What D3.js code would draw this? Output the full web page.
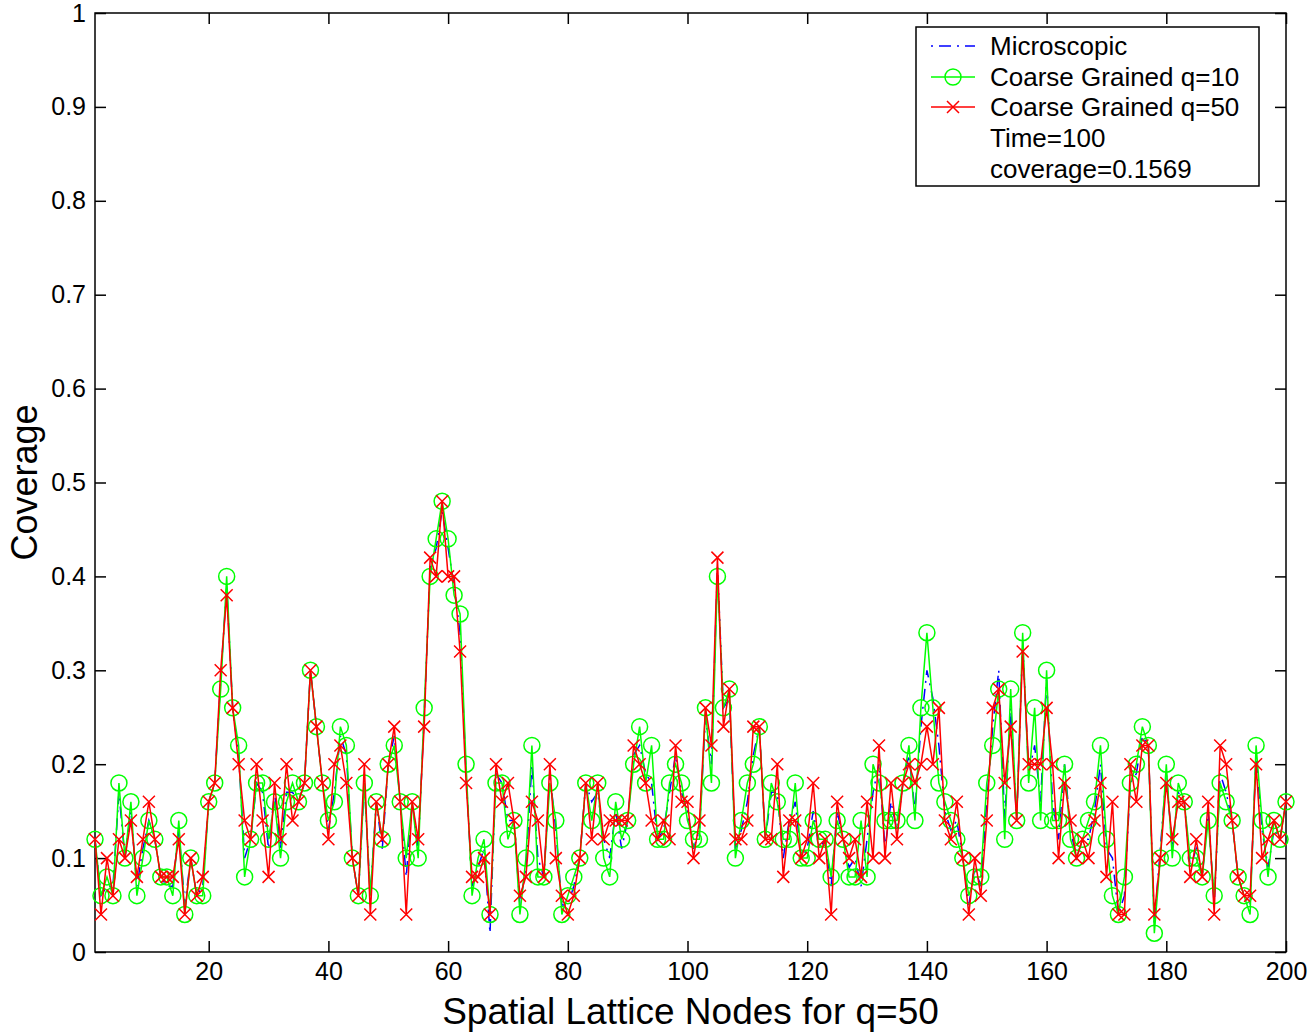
<!DOCTYPE html>
<html>
<head>
<meta charset="utf-8">
<script src="https://cdn.jsdelivr.net/npm/d3@7"></script>
<style>
  body { margin: 0; background: #fff; }
  svg { display: block; font-family: "Liberation Sans", Arial, sans-serif; }
</style>
</head>
<body>
<svg id="chart" width="1313" height="1032"></svg>
<script>
// coverage per lattice node
const microscopic = [
  0.12, 0.06, 0.07, 0.07, 0.17, 0.10, 0.15, 0.07, 0.11, 0.14,
  0.12, 0.08, 0.07, 0.07, 0.13, 0.05, 0.10, 0.06, 0.07, 0.16,
  0.18, 0.29, 0.39, 0.26, 0.21, 0.10, 0.12, 0.18, 0.17, 0.11,
  0.17, 0.11, 0.17, 0.17, 0.16, 0.18, 0.30, 0.24, 0.18, 0.13,
  0.17, 0.23, 0.21, 0.10, 0.06, 0.18, 0.06, 0.16, 0.11, 0.20,
  0.23, 0.16, 0.08, 0.16, 0.11, 0.25, 0.41, 0.43, 0.47, 0.43,
  0.39, 0.34, 0.19, 0.07, 0.09, 0.11, 0.02, 0.19, 0.18, 0.14,
  0.14, 0.05, 0.09, 0.20, 0.10, 0.08, 0.19, 0.13, 0.05, 0.05,
  0.07, 0.10, 0.18, 0.16, 0.17, 0.12, 0.10, 0.15, 0.11, 0.14,
  0.21, 0.22, 0.19, 0.18, 0.12, 0.13, 0.17, 0.21, 0.17, 0.15,
  0.11, 0.13, 0.25, 0.20, 0.41, 0.26, 0.27, 0.11, 0.13, 0.16,
  0.21, 0.24, 0.12, 0.17, 0.17, 0.10, 0.14, 0.16, 0.10, 0.11,
  0.15, 0.11, 0.12, 0.07, 0.15, 0.12, 0.09, 0.10, 0.07, 0.12,
  0.17, 0.20, 0.11, 0.16, 0.13, 0.18, 0.21, 0.15, 0.24, 0.30,
  0.27, 0.22, 0.15, 0.13, 0.14, 0.10, 0.05, 0.09, 0.07, 0.16,
  0.24, 0.30, 0.14, 0.26, 0.14, 0.33, 0.19, 0.22, 0.16, 0.29,
  0.16, 0.12, 0.20, 0.13, 0.10, 0.12, 0.12, 0.15, 0.20, 0.11,
  0.10, 0.04, 0.06, 0.18, 0.19, 0.23, 0.22, 0.03, 0.11, 0.19,
  0.11, 0.17, 0.16, 0.09, 0.11, 0.08, 0.15, 0.05, 0.19, 0.17,
  0.14, 0.08, 0.06, 0.05, 0.21, 0.13, 0.09, 0.13, 0.12, 0.16
]

const coarseQ10 = [
  0.12, 0.06, 0.08, 0.06, 0.18, 0.10, 0.16, 0.06, 0.10, 0.14,
  0.12, 0.08, 0.08, 0.06, 0.14, 0.04, 0.10, 0.06, 0.06, 0.16,
  0.18, 0.28, 0.40, 0.26, 0.22, 0.08, 0.12, 0.18, 0.18, 0.12,
  0.16, 0.10, 0.16, 0.18, 0.16, 0.18, 0.30, 0.24, 0.18, 0.14,
  0.16, 0.24, 0.22, 0.10, 0.06, 0.18, 0.06, 0.16, 0.12, 0.20,
  0.22, 0.16, 0.10, 0.16, 0.10, 0.26, 0.40, 0.44, 0.48, 0.44,
  0.38, 0.36, 0.20, 0.06, 0.10, 0.12, 0.04, 0.18, 0.18, 0.12,
  0.14, 0.04, 0.10, 0.22, 0.08, 0.08, 0.18, 0.14, 0.04, 0.06,
  0.08, 0.10, 0.18, 0.14, 0.18, 0.10, 0.08, 0.16, 0.12, 0.14,
  0.20, 0.24, 0.18, 0.22, 0.12, 0.12, 0.18, 0.20, 0.18, 0.14,
  0.12, 0.12, 0.26, 0.18, 0.40, 0.26, 0.28, 0.10, 0.14, 0.18,
  0.20, 0.24, 0.12, 0.18, 0.16, 0.12, 0.12, 0.18, 0.10, 0.10,
  0.14, 0.12, 0.12, 0.08, 0.14, 0.12, 0.08, 0.08, 0.14, 0.08,
  0.20, 0.18, 0.14, 0.14, 0.14, 0.18, 0.22, 0.14, 0.26, 0.34,
  0.26, 0.18, 0.16, 0.14, 0.12, 0.10, 0.06, 0.08, 0.08, 0.18,
  0.22, 0.28, 0.12, 0.28, 0.14, 0.34, 0.18, 0.26, 0.14, 0.30,
  0.14, 0.14, 0.20, 0.12, 0.10, 0.12, 0.14, 0.16, 0.22, 0.12,
  0.06, 0.04, 0.08, 0.18, 0.20, 0.24, 0.22, 0.02, 0.10, 0.20,
  0.10, 0.18, 0.16, 0.10, 0.10, 0.08, 0.14, 0.06, 0.18, 0.16,
  0.14, 0.08, 0.06, 0.04, 0.22, 0.14, 0.08, 0.14, 0.12, 0.16
]

const coarseQ50 = [
  0.12, 0.04, 0.10, 0.06, 0.12, 0.10, 0.14, 0.08, 0.12, 0.16,
  0.12, 0.08, 0.08, 0.08, 0.12, 0.04, 0.10, 0.06, 0.08, 0.16,
  0.18, 0.30, 0.38, 0.26, 0.20, 0.14, 0.12, 0.20, 0.14, 0.08,
  0.18, 0.12, 0.20, 0.14, 0.16, 0.18, 0.30, 0.24, 0.18, 0.12,
  0.20, 0.22, 0.18, 0.10, 0.06, 0.20, 0.04, 0.16, 0.12, 0.20,
  0.24, 0.16, 0.04, 0.16, 0.12, 0.24, 0.42, 0.40, 0.48, 0.40,
  0.40, 0.32, 0.18, 0.08, 0.08, 0.10, 0.04, 0.20, 0.16, 0.18,
  0.14, 0.06, 0.08, 0.16, 0.14, 0.08, 0.20, 0.10, 0.06, 0.04,
  0.06, 0.10, 0.18, 0.12, 0.18, 0.12, 0.14, 0.14, 0.14, 0.14,
  0.22, 0.20, 0.18, 0.14, 0.12, 0.14, 0.12, 0.22, 0.16, 0.16,
  0.10, 0.14, 0.26, 0.22, 0.42, 0.24, 0.28, 0.12, 0.12, 0.14,
  0.24, 0.24, 0.12, 0.12, 0.20, 0.08, 0.14, 0.14, 0.10, 0.12,
  0.18, 0.10, 0.12, 0.04, 0.16, 0.12, 0.10, 0.12, 0.08, 0.16,
  0.10, 0.22, 0.10, 0.18, 0.12, 0.18, 0.20, 0.18, 0.20, 0.24,
  0.20, 0.26, 0.14, 0.12, 0.16, 0.10, 0.04, 0.10, 0.06, 0.14,
  0.26, 0.28, 0.18, 0.24, 0.14, 0.32, 0.20, 0.20, 0.20, 0.26,
  0.20, 0.10, 0.18, 0.14, 0.10, 0.12, 0.10, 0.14, 0.18, 0.08,
  0.16, 0.04, 0.04, 0.20, 0.16, 0.22, 0.22, 0.04, 0.10, 0.18,
  0.12, 0.16, 0.16, 0.08, 0.12, 0.08, 0.16, 0.04, 0.22, 0.20,
  0.14, 0.08, 0.06, 0.06, 0.20, 0.10, 0.12, 0.14, 0.12, 0.16
]

const xTicks = [20, 40, 60, 80, 100, 120, 140, 160, 180, 200]
const yTicks = [0, 0.1, 0.2, 0.3, 0.4, 0.5, 0.6, 0.7, 0.8, 0.9, 1]
const legendLabels = ["Microscopic", "Coarse Grained q=10", "Coarse Grained q=50", "Time=100", "coverage=0.1569"]

const svg = d3.select("#chart")
const plotLeft = 95, plotRight = 1286, plotTop = 13, plotBottom = 952

const x = d3.scaleLinear().domain([1, 200]).range([plotLeft, plotRight])
const y = d3.scaleLinear().domain([0, 1]).range([plotBottom, plotTop])

const line = d3.line()
    .x((d, i) => x(i + 1))
    .y(d => y(d))

// axes box with inward ticks on all sides (matlab style)
const tickLen = 11
svg.append("g")
    .attr("transform", `translate(0,${plotBottom})`)
    .call(d3.axisBottom(x).tickValues(xTicks).tickSizeInner(-tickLen).tickSizeOuter(0).tickPadding(10))
    .call(g => g.select(".domain").remove())
svg.append("g")
    .attr("transform", `translate(0,${plotTop})`)
    .call(d3.axisTop(x).tickValues(xTicks).tickSizeInner(-tickLen).tickSizeOuter(0).tickFormat(""))
    .call(g => g.select(".domain").remove())
svg.append("g")
    .attr("transform", `translate(${plotLeft},0)`)
    .call(d3.axisLeft(y).tickValues(yTicks).tickSizeInner(-tickLen).tickSizeOuter(0).tickPadding(9).tickFormat(d3.format("~g")))
    .call(g => g.select(".domain").remove())
svg.append("g")
    .attr("transform", `translate(${plotRight},0)`)
    .call(d3.axisRight(y).tickValues(yTicks).tickSizeInner(-tickLen).tickSizeOuter(0).tickFormat(""))
    .call(g => g.select(".domain").remove())

svg.selectAll(".tick line").attr("stroke", "#000").attr("stroke-width", 1.5)
svg.selectAll(".tick text").attr("font-size", 25).attr("fill", "#000")
    .attr("font-family", "'Liberation Sans', Arial, sans-serif")

svg.append("rect")
    .attr("x", plotLeft).attr("y", plotTop)
    .attr("width", plotRight - plotLeft).attr("height", plotBottom - plotTop)
    .attr("fill", "none").attr("stroke", "#000").attr("stroke-width", 1.5)

// series
const plot = svg.append("g")

plot.append("path")
    .datum(microscopic)
    .attr("d", line)
    .attr("fill", "none")
    .attr("stroke", "#0000ff")
    .attr("stroke-width", 1.5)
    .attr("stroke-dasharray", "12,6,2,6")

plot.append("path")
    .datum(coarseQ10)
    .attr("d", line)
    .attr("fill", "none")
    .attr("stroke", "#00ff00")
    .attr("stroke-width", 1.5)

plot.selectAll(".circ")
    .data(coarseQ10)
    .join("circle")
    .attr("class", "circ")
    .attr("cx", (d, i) => x(i + 1))
    .attr("cy", d => y(d))
    .attr("r", 8)
    .attr("fill", "none")
    .attr("stroke", "#00ff00")
    .attr("stroke-width", 1.5)

plot.append("path")
    .datum(coarseQ50)
    .attr("d", line)
    .attr("fill", "none")
    .attr("stroke", "#ff0000")
    .attr("stroke-width", 1.5)

const cross = 6
plot.selectAll(".cross")
    .data(coarseQ50)
    .join("path")
    .attr("class", "cross")
    .attr("d", (d, i) => {
        const cx = x(i + 1), cy = y(d)
        return `M${cx - cross},${cy - cross}L${cx + cross},${cy + cross}M${cx - cross},${cy + cross}L${cx + cross},${cy - cross}`
    })
    .attr("stroke", "#ff0000")
    .attr("stroke-width", 1.5)

// legend
const legend = svg.append("g")
legend.append("rect")
    .attr("x", 916).attr("y", 27).attr("width", 343).attr("height", 159)
    .attr("fill", "#fff").attr("stroke", "#000").attr("stroke-width", 1.5)

const rowY = [46, 77, 107, 138, 169]
legend.selectAll("text")
    .data(legendLabels)
    .join("text")
    .attr("x", 990)
    .attr("y", (d, i) => rowY[i])
    .attr("dy", "0.35em")
    .attr("font-size", 26)
    .text(d => d)

legend.append("line")
    .attr("x1", 931).attr("x2", 975).attr("y1", rowY[0]).attr("y2", rowY[0])
    .attr("stroke", "#0000ff").attr("stroke-width", 1.5).attr("stroke-dasharray", "2,6,12,6")
legend.append("line")
    .attr("x1", 931).attr("x2", 975).attr("y1", rowY[1]).attr("y2", rowY[1])
    .attr("stroke", "#00ff00").attr("stroke-width", 1.5)
legend.append("circle")
    .attr("cx", 953).attr("cy", rowY[1]).attr("r", 8)
    .attr("fill", "none").attr("stroke", "#00ff00").attr("stroke-width", 1.5)
legend.append("line")
    .attr("x1", 931).attr("x2", 975).attr("y1", rowY[2]).attr("y2", rowY[2])
    .attr("stroke", "#ff0000").attr("stroke-width", 1.5)
legend.append("path")
    .attr("d", `M${953 - cross},${rowY[2] - cross}L${953 + cross},${rowY[2] + cross}M${953 - cross},${rowY[2] + cross}L${953 + cross},${rowY[2] - cross}`)
    .attr("stroke", "#ff0000").attr("stroke-width", 1.5)

// axis titles
svg.append("text")
    .attr("x", (plotLeft + plotRight) / 2)
    .attr("y", 1024)
    .attr("text-anchor", "middle")
    .attr("font-size", 37)
    .text("Spatial Lattice Nodes for q=50")

svg.append("text")
    .attr("transform", `translate(37,${(plotTop + plotBottom) / 2}) rotate(-90)`)
    .attr("text-anchor", "middle")
    .attr("font-size", 36)
    .text("Coverage")
</script>
</body>
</html>
